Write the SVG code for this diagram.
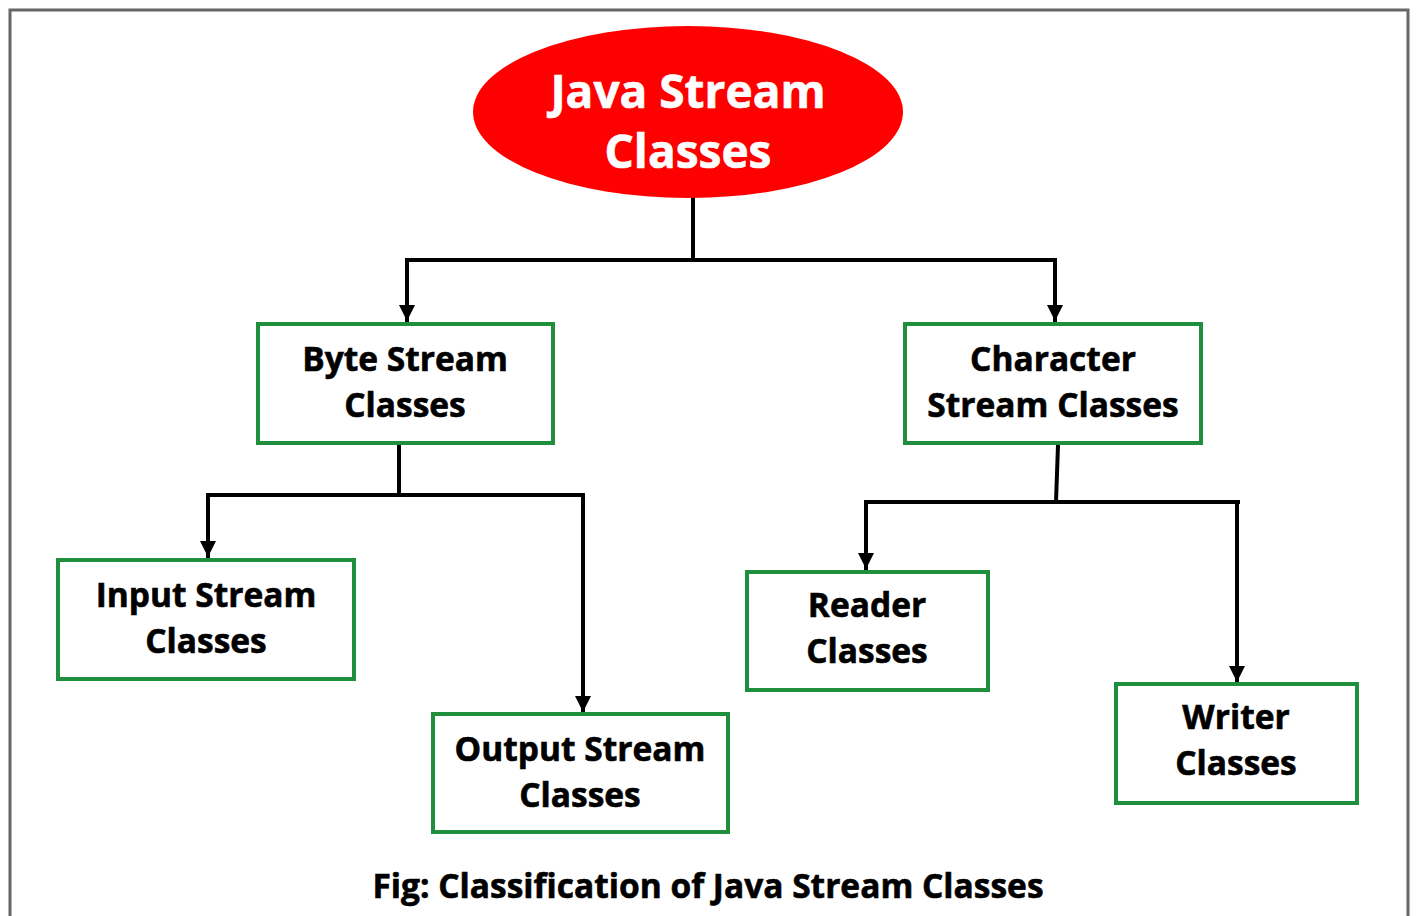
<svg xmlns="http://www.w3.org/2000/svg" width="1416" height="916" viewBox="0 0 1416 916">
<style>
.box{fill:#fff;stroke:#1f8e3d;stroke-width:4}
.lbl{font-family:"Open Sans","Liberation Sans",sans-serif;font-weight:700;font-size:33.5px;fill:#000;stroke:#000;stroke-width:0.6;text-anchor:middle}
.title{font-family:"Open Sans","Liberation Sans",sans-serif;font-weight:700;font-size:46px;fill:#fff;stroke:#fff;stroke-width:0.6;text-anchor:middle}
.con{fill:none;stroke:#000;stroke-width:4;stroke-linecap:square}
</style>
<defs>
<marker id="arr" viewBox="0 0 10 10" refX="10" refY="5" markerWidth="4" markerHeight="4.4" markerUnits="strokeWidth" orient="auto">
<path d="M0,0 L10,5 L0,10 z" fill="#000"/>
</marker>
</defs>
<rect x="0" y="0" width="1416" height="916" fill="#fff"/>
<path d="M10,920 L10,10 L1408,10 L1408,920" fill="none" stroke="#666" stroke-width="3"/>
<g id="connectors">
<path class="con" d="M693,199 L693,260"/>
<path class="con" d="M407,260 L1055,260"/>
<path class="con" d="M407,260 L407,321" marker-end="url(#arr)"/>
<path class="con" d="M1055,260 L1055,321" marker-end="url(#arr)"/>
<path class="con" d="M399,444 L399,495"/>
<path class="con" d="M208,495 L583,495"/>
<path class="con" d="M208,495 L208,557" marker-end="url(#arr)"/>
<path class="con" d="M583,495 L583,712" marker-end="url(#arr)"/>
<path class="con" d="M1058,445 L1056,502"/>
<path class="con" d="M866,502 L1238,502"/>
<path class="con" d="M866,502 L866,569" marker-end="url(#arr)"/>
<path class="con" d="M1237,502 L1237,682" marker-end="url(#arr)"/>
</g>
<g id="root">
<ellipse cx="688" cy="112" rx="215" ry="86" fill="#ff0000"/>
<text class="title" x="688" y="108">Java Stream</text>
<text class="title" x="688" y="168">Classes</text>
</g>
<g id="byte">
<rect class="box" x="258" y="324" width="295" height="119"/>
<text class="lbl" x="405" y="371">Byte Stream</text>
<text class="lbl" x="405" y="417">Classes</text>
</g>
<g id="character">
<rect class="box" x="905" y="324" width="296" height="119"/>
<text class="lbl" x="1053" y="371">Character</text>
<text class="lbl" x="1053" y="417">Stream Classes</text>
</g>
<g id="input">
<rect class="box" x="58" y="560" width="296" height="119"/>
<text class="lbl" x="206" y="607">Input Stream</text>
<text class="lbl" x="206" y="653">Classes</text>
</g>
<g id="output">
<rect class="box" x="433" y="714" width="295" height="118"/>
<text class="lbl" x="580" y="761">Output Stream</text>
<text class="lbl" x="580" y="807">Classes</text>
</g>
<g id="reader">
<rect class="box" x="747" y="572" width="241" height="118"/>
<text class="lbl" x="867" y="617">Reader</text>
<text class="lbl" x="867" y="663">Classes</text>
</g>
<g id="writer">
<rect class="box" x="1116" y="684" width="241" height="119"/>
<text class="lbl" x="1236" y="729">Writer</text>
<text class="lbl" x="1236" y="775">Classes</text>
</g>
<g id="caption">
<text class="lbl" x="708" y="898">Fig: Classification of Java Stream Classes</text>
</g>
</svg>
